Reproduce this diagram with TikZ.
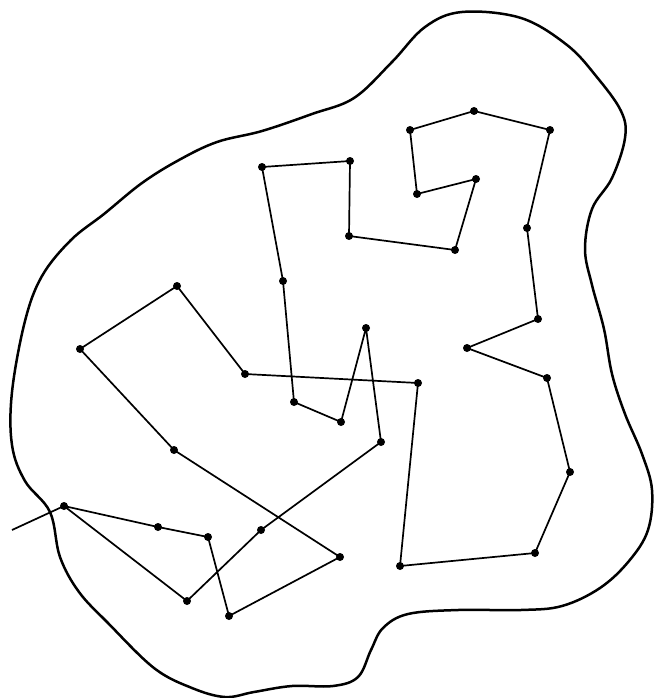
\documentclass[tikz,border=0pt]{standalone}
\usepackage{tikz}
\usetikzlibrary{positioning,calc}

\begin{document}
\begin{tikzpicture}[
  x=1pt, y=-1pt,
  dot/.style={circle, fill=black, inner sep=0pt, minimum size=8pt},
  tour/.style={line width=1.7pt, line join=round},
  region/.style={line width=2.5pt, line join=round}
]
\useasboundingbox (0,0) rectangle (653,698);
% outer region
\draw[region] plot[smooth cycle, tension=0.6] coordinates {
  (462,12) (521,18) (567,45) (596,76) (621,111) (625,138) (612,178)
  (592,209) (585,249) (592,285) (604,329) (612,374) (625,414) (642,454)
  (652,490) (648,530) (629,561) (600,588) (562,606) (521,610) (458,610)
  (408,614) (383,628) (371,650) (358,677) (333,686) (292,686) (254,692)
  (225,697) (192,688) (154,668) (108,623) (79,592) (60,557) (50,512)
  (25,481) (12,445) (12,392) (25,321) (42,276) (71,240) (104,214)
  (142,183) (179,160) (217,142) (262,131) (312,114) (354,98) (392,62)
  (425,27)};
% points
\node[dot] (p1) at (64,506) {};
\node[dot] (p2) at (158,527) {};
\node[dot] (p3) at (208,537) {};
\node[dot] (p4) at (229,616) {};
\node[dot] (p5) at (340,557) {};
\node[dot] (p6) at (174,450) {};
\node[dot] (p7) at (80,349) {};
\node[dot] (p8) at (177,286) {};
\node[dot] (p9) at (245,374) {};
\node[dot] (p10) at (418,383) {};
\node[dot] (p11) at (400,566) {};
\node[dot] (p12) at (535,553) {};
\node[dot] (p13) at (570,472) {};
\node[dot] (p14) at (547,378) {};
\node[dot] (p15) at (467,348) {};
\node[dot] (p16) at (538,319) {};
\node[dot] (p17) at (527,228) {};
\node[dot] (p18) at (550,130) {};
\node[dot] (p19) at (474,111) {};
\node[dot] (p20) at (410,130) {};
\node[dot] (p21) at (417,194) {};
\node[dot] (p22) at (476,179) {};
\node[dot] (p23) at (455,250) {};
\node[dot] (p24) at (349,236) {};
\node[dot] (p25) at (350,161) {};
\node[dot] (p26) at (262,167) {};
\node[dot] (p27) at (283,281) {};
\node[dot] (p28) at (294,402) {};
\node[dot] (p29) at (341,422) {};
\node[dot] (p30) at (366,328) {};
\node[dot] (p31) at (381,442) {};
\node[dot] (p32) at (261,530) {};
\node[dot] (p33) at (187,601) {};
\coordinate (tail) at (12,530);
% tour
\draw[tour] (tail) -- (p1.center);
\draw[tour] (p1.center) -- (p2.center) -- (p3.center) -- (p4.center) -- (p5.center)
  -- (p6.center) -- (p7.center) -- (p8.center) -- (p9.center) -- (p10.center)
  -- (p11.center) -- (p12.center) -- (p13.center) -- (p14.center) -- (p15.center)
  -- (p16.center) -- (p17.center) -- (p18.center) -- (p19.center) -- (p20.center)
  -- (p21.center) -- (p22.center) -- (p23.center) -- (p24.center) -- (p25.center)
  -- (p26.center) -- (p27.center) -- (p28.center) -- (p29.center) -- (p30.center)
  -- (p31.center) -- (p32.center) -- (p33.center) -- cycle;
\end{tikzpicture}
\end{document}
